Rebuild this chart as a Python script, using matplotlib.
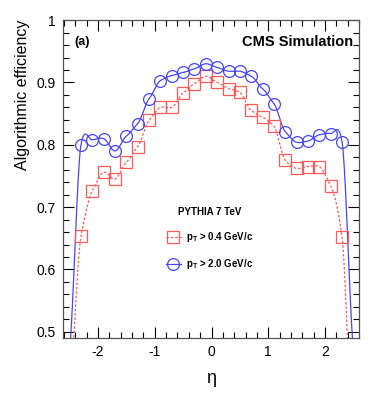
import matplotlib
matplotlib.use('Agg')
import matplotlib.pyplot as plt
import numpy as np
from matplotlib.ticker import MultipleLocator

plt.rcParams['font.family'] = ['Liberation Sans', 'DejaVu Sans']
plt.rcParams['mathtext.fontset'] = 'custom'
plt.rcParams['mathtext.rm'] = 'Liberation Sans'
plt.rcParams['mathtext.bf'] = 'Liberation Sans:bold'

# bin centres in eta
eta = np.round(np.arange(-2.3, 2.31, 0.2), 2)

# efficiency, pT > 0.4 GeV/c
eff_04 = [0.653, 0.726, 0.756, 0.745, 0.772, 0.797, 0.839, 0.860, 0.860, 0.883,
          0.898, 0.910, 0.900, 0.890, 0.884, 0.855, 0.844, 0.830, 0.775, 0.762,
          0.765, 0.765, 0.734, 0.652]
# efficiency, pT > 2.0 GeV/c
eff_20 = [0.800, 0.808, 0.810, 0.790, 0.814, 0.834, 0.874, 0.903, 0.911, 0.916,
          0.922, 0.930, 0.924, 0.918, 0.918, 0.910, 0.890, 0.866, 0.821, 0.804,
          0.806, 0.816, 0.818, 0.805]

# curve end values at eta = -2.5 / +2.5 (outside acceptance, below frame)
edge_eta = [-2.5, 2.5]
edge_04 = [0.40, 0.28]
edge_20 = [0.47, 0.47]

xticks = [-2, -1, 0, 1, 2]
yticks = [0.5, 0.6, 0.7, 0.8, 0.9, 1.0]
ytick_labels = ['0.5', '0.6', '0.7', '0.8', '0.9', '1']

red = '#ff5a5a'
blue = '#4646f5'


def smooth(xk, yk, n=20, tension=0.6):
    # cardinal spline through the knots
    xk = np.asarray(xk, float)
    yk = np.asarray(yk, float)
    m = tension * np.gradient(yk, xk)
    xs, ys = [], []
    for i in range(len(xk) - 1):
        h = xk[i + 1] - xk[i]
        t = np.linspace(0, 1, n, endpoint=False)
        h00 = 2 * t**3 - 3 * t**2 + 1
        h10 = t**3 - 2 * t**2 + t
        h01 = -2 * t**3 + 3 * t**2
        h11 = t**3 - t**2
        xs.append(xk[i] + t * h)
        ys.append(h00 * yk[i] + h10 * h * m[i] + h01 * yk[i + 1] + h11 * h * m[i + 1])
    xs.append([xk[-1]])
    ys.append([yk[-1]])
    return np.concatenate(xs), np.concatenate(ys)


fig = plt.figure(figsize=(3.74, 3.94), dpi=100)
ax = fig.add_axes([0.168, 0.142, 0.792, 0.807])

for vals, edge, col, ls, mk in [(eff_04, edge_04, red, (0, (2, 1.5)), 's'),
                                (eff_20, edge_20, blue, '-', 'o')]:
    xk = np.concatenate([[edge_eta[0]], eta, [edge_eta[1]]])
    yk = np.concatenate([[edge[0]], vals, [edge[1]]])
    cx, cy = smooth(xk, yk)
    ax.plot(cx, cy, color=col, lw=0.9, ls=ls, zorder=2)
    ax.plot(eta, vals, ls='none', marker=mk, ms=8.5, mfc='none', mec=col,
            mew=0.9, zorder=3)

# legend handles
h1, = ax.plot([], [], color=red, lw=0.9, ls=(0, (2, 1.5)), marker='s', ms=8.5,
              mfc='none', mec=red, mew=0.9)
h2, = ax.plot([], [], color=blue, lw=0.9, ls='-', marker='o', ms=8.5,
              mfc='none', mec=blue, mew=0.9)
leg = ax.legend([h1, h2], [r'$\mathbf{p_{T}}$ > 0.4 GeV/c', r'$\mathbf{p_{T}}$ > 2.0 GeV/c'],
                loc='upper left', bbox_to_anchor=(0.334, 0.425), frameon=False,
                title='PYTHIA 7 TeV', handlelength=1.6, handletextpad=0.5,
                labelspacing=1.35, borderaxespad=0,
                prop={'weight': 'bold', 'size': 7})
leg.get_title().set_fontweight('bold')
leg.get_title().set_fontsize(7)
leg._legend_box.align = 'center'

ax.set_xlim(-2.62, 2.6)
ax.set_ylim(0.49, 1.0)
ax.set_xticks(xticks)
ax.set_xticklabels([str(v) for v in xticks])
ax.set_yticks(yticks)
ax.set_yticklabels(ytick_labels)
ax.xaxis.set_minor_locator(MultipleLocator(0.2))
ax.yaxis.set_minor_locator(MultipleLocator(0.02))
ax.tick_params(which='both', direction='in', top=True, right=True,
               labelsize=10, pad=5)
ax.tick_params(which='major', length=8, width=0.8)
ax.tick_params(which='minor', length=4, width=0.8)
for s in ax.spines.values():
    s.set_linewidth(0.9)
    s.set_color('#555555')

ax.set_ylabel('Algorithmic efficiency', fontsize=11.5, loc='top', labelpad=5)
ax.set_xlabel('η', fontsize=13, loc='center', labelpad=8)

ax.text(0.04, 0.93, '(a)', transform=ax.transAxes, fontsize=9, weight='bold',
        va='center')
ax.text(0.98, 0.93, 'CMS Simulation', transform=ax.transAxes, fontsize=10.5,
        weight='bold', ha='right', va='center')

fig.savefig('out.png', dpi=100)
